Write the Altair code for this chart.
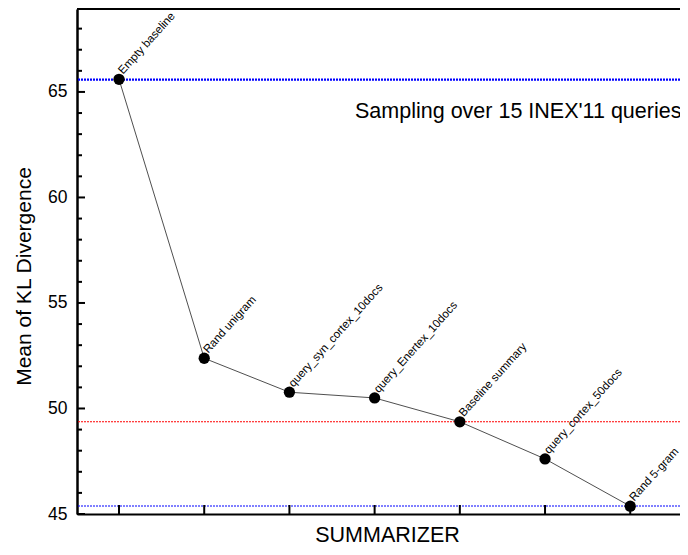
import altair as alt
import pandas as pd

# ---- data ----
summarizers = ["Empty baseline", "Rand unigram", "query_syn_cortex_10docs",
               "query_Enertex_10docs", "Baseline summary", "query_cortex_50docs",
               "Rand 5-gram"]
positions = [1, 2, 3, 4, 5, 6, 7]
kl_means = [65.6, 52.38, 50.77, 50.5, 49.37, 47.61, 45.37]

ref_values = [65.58, 49.37, 45.38]
ref_colors = ["#0000ff", "#ff0000", "#0000ff"]
ref_widths = [2.2, 1.1, 1.1]

y_major = [45, 50, 55, 60, 65]
y_minor = [46, 47, 48, 49, 51, 52, 53, 54, 56, 57, 58, 59, 61, 62, 63, 64, 66, 67, 68]

note_text = ["Sampling over 15 INEX'11 queries"]
note_x = [3.77]
note_y = [63.75]

W, H = 603, 505
FONT = "Liberation Sans"

pts = pd.DataFrame({"name": summarizers, "pos": positions, "kl": kl_means})
refs = pd.DataFrame({"kl": ref_values, "c": ref_colors, "w": ref_widths})
major = pd.DataFrame({"kl": y_major})
minor = pd.DataFrame({"kl": y_minor})
note = pd.DataFrame({"t": note_text, "pos": note_x, "kl": note_y})

x_scale = alt.Scale(domain=[0.507, 7.584], nice=False, zero=False)
y_scale = alt.Scale(domain=[45, 68.93], nice=False, zero=False)

x_axis = alt.Axis(title="SUMMARIZER", labels=False, ticks=False, grid=False,
                  domainColor="black", domainWidth=2,
                  titleFont=FONT, titleFontSize=21.5, titleFontWeight="normal",
                  titleColor="black", titleX=310, titleY=27, titleAlign="center",
                  titleBaseline="alphabetic")
y_axis = alt.Axis(title="Mean of KL Divergence", values=y_major, format="d",
                  ticks=False, grid=False, labelPadding=10,
                  labelFont=FONT, labelFontSize=17.5, labelColor="black",
                  domainColor="black", domainWidth=2.5,
                  titleFont=FONT, titleFontSize=21, titleFontWeight="normal",
                  titleColor="black", titleX=-47, titleY=267, titleAngle=270,
                  titleAlign="center", titleBaseline="alphabetic")

X = lambda f: alt.X(f, scale=x_scale, axis=x_axis)
Y = lambda f: alt.Y(f, scale=y_scale, axis=y_axis)

ref_lines = alt.Chart(refs).mark_rule(strokeDash=[2, 1]).encode(
    y=Y("kl:Q"),
    color=alt.Color("c:N", scale=None),
    strokeWidth=alt.StrokeWidth("w:Q", scale=None),
)

top_border = alt.Chart(refs).mark_rule(color="black", strokeWidth=2).encode(
    y=alt.value(0)
)

y_major_ticks = alt.Chart(major).mark_rule(color="black", strokeWidth=2).encode(
    y=Y("kl:Q"), x=alt.value(0), x2=alt.value(8)
)
y_minor_ticks = alt.Chart(minor).mark_rule(color="black", strokeWidth=2).encode(
    y=Y("kl:Q"), x=alt.value(0), x2=alt.value(5)
)
x_ticks = alt.Chart(pts).mark_rule(color="black", strokeWidth=2).encode(
    x=X("pos:Q"), y=alt.value(H), y2=alt.value(H - 9)
)

line = alt.Chart(pts).mark_line(color="#222222", strokeWidth=0.8).encode(
    x=X("pos:Q"), y=Y("kl:Q")
)
points = alt.Chart(pts).mark_circle(color="black", size=127, opacity=1).encode(
    x=X("pos:Q"), y=Y("kl:Q")
)
labels = alt.Chart(pts).mark_text(
    angle=312, align="left", baseline="alphabetic", dx=6, dy=0,
    font=FONT, fontSize=11.5, color="black"
).encode(x=X("pos:Q"), y=Y("kl:Q"), text="name:N")

note_mark = alt.Chart(note).mark_text(
    align="left", baseline="alphabetic", font=FONT, fontSize=21.5, color="black"
).encode(x=X("pos:Q"), y=Y("kl:Q"), text="t:N")

chart = alt.layer(
    ref_lines, top_border, y_major_ticks, y_minor_ticks, x_ticks,
    line, points, labels, note_mark
).properties(
    width=W, height=H,
    autosize=alt.AutoSizeParams(type="none"),
    padding={"left": 69, "top": 1, "right": 0, "bottom": 32},
    background="white",
).configure_view(stroke=None)

chart.save("out.html", embed_options={"renderer": "svg", "actions": False})
